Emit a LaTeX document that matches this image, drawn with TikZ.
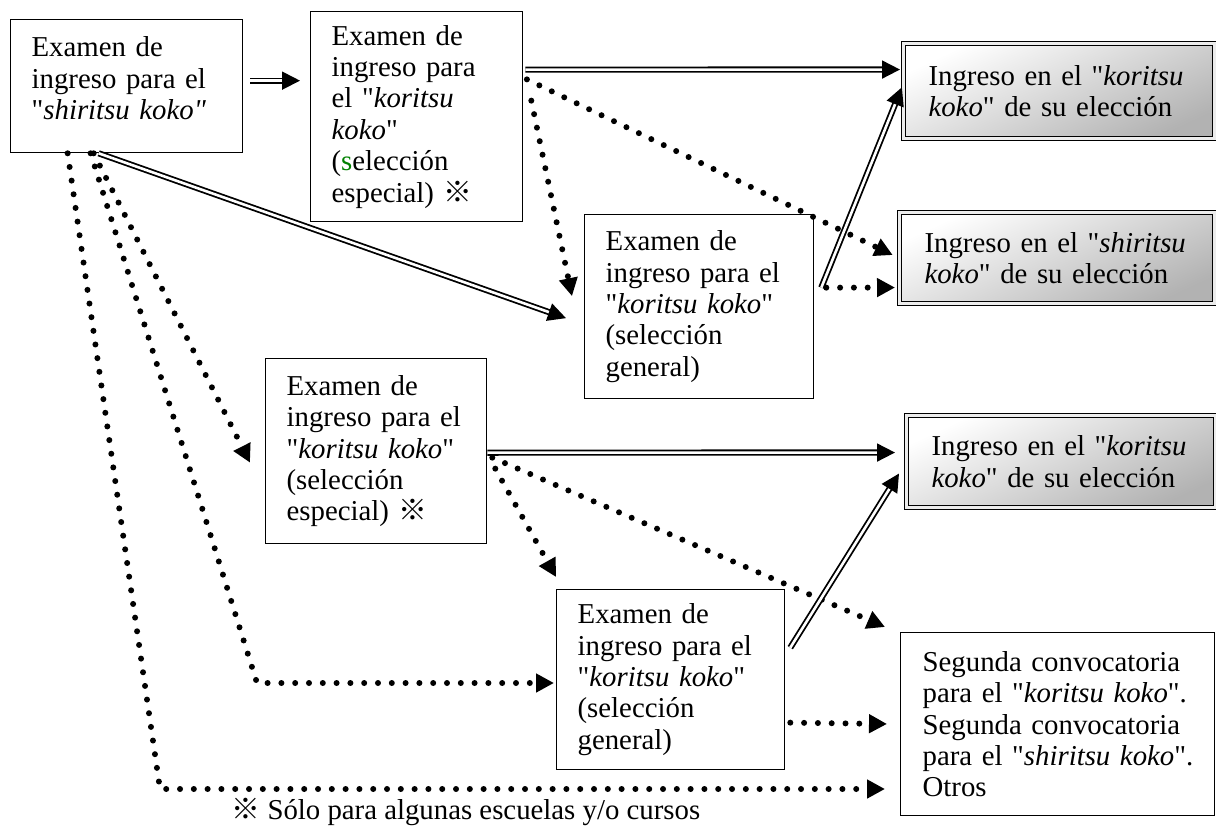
\documentclass[tikz,border=0pt]{standalone}
\usepackage{fontspec}
\setmainfont{Liberation Serif}[Ligatures=TeXOff]
\newfontfamily\cjk{Noto Sans CJK JP}
\usetikzlibrary{arrows.meta}
\newcommand{\kome}{{\cjk ※}}

\begin{document}
\begin{tikzpicture}[x=1pt, y=-1pt,
    box/.style={draw, line width=1.3pt, anchor=north west, align=left,
        inner xsep=21pt, inner ysep=0pt, font=\fontsize{28.8}{31.4}\selectfont},
    goal/.style={box, double=gray!15, double distance=2.2pt, line width=1.1pt,
        top color=white, bottom color=gray!60, shading angle=25, inner xsep=25pt},
    dbl/.style={double, line width=1.8pt, double distance=2.6pt,
        -{Triangle[length=18pt,width=18pt]}},
    dots/.style={line width=6pt, line cap=round, dash pattern=on 0pt off 13.8pt,
        -{Triangle[length=18pt,width=18pt]}}
]
    \useasboundingbox (0,0) rectangle (1216,832);

    \node[box, text width=190pt, minimum height=133pt] (shiexam) at (10,19)
        {Examen de\\ ingreso para el\\ "\textit{shiritsu koko"}\rule[-16pt]{0pt}{0pt}};
    \node[box, text width=170pt, minimum height=210pt] (kosp1)   at (310,11)
        {Examen de\\ ingreso para\\ el "\textit{koritsu}\\ \textit{koko}"\\
         (\textcolor{green!50!black}{s}elección\\ especial) \kome};
    \node[box, text width=187pt, minimum height=184pt] (kogen1)  at (584,214)
        {Examen de\\ ingreso para el\\ "\textit{koritsu koko}"\\ (selección\\ general)};
    \node[box, text width=179pt, minimum height=185pt] (kosp2)   at (265,358)
        {Examen de\\ ingreso para el\\ "\textit{koritsu koko}"\\ (selección\\ especial) \kome};
    \node[box, text width=186pt, minimum height=180pt] (kogen2)  at (556,589)
        {Examen de\\ ingreso para el\\ "\textit{koritsu koko}"\\ (selección\\ general)};
    \node[goal, text width=261pt, minimum height=95pt] (ingko1)  at (903,43)
        {Ingreso en el "\textit{koritsu}\\ \textit{koko}" de su elección};
    \node[goal, text width=265pt, minimum height=91pt] (ingshi)  at (899,212)
        {Ingreso en el "\textit{shiritsu}\\ \textit{koko}" de su elección};
    \node[goal, text width=259pt, minimum height=92pt] (ingko2)  at (906,415)
        {Ingreso en el "\textit{koritsu}\\ \textit{koko}" de su elección};
    \node[box, text width=270pt, minimum height=183pt, inner xsep=22pt] (second) at (900,632)
        {Segunda convocatoria\\ \mbox{para el "\textit{koritsu koko}".}\\ Segunda convocatoria\\
         \mbox{para el "\textit{shiritsu koko}".}\\ Otros};
    \node[anchor=base west, font=\fontsize{28.8}{31.4}\selectfont] (note) at (228,819)
        {\kome\ Sólo para algunas escuelas y/o cursos};

    \coordinate (bendL) at (160,789);
    \coordinate (bendM) at (257,683);

    \draw[dots, shorten >=15pt] ([xshift=-59pt]shiexam.south) -- (bendL) -- (bendL -| second.west);
    \draw[dots, shorten >=2pt]  ([xshift=-36pt]shiexam.south) -- (bendM) -- (bendM -| kogen2.west);
    \path
        ([yshift=5.5pt]shiexam.east)
            edge [dbl, shorten <=7pt, shorten >=10pt] ([yshift=36pt]kosp1.west)
        ([xshift=-28pt]shiexam.south)
            edge [dbl] ([xshift=-18pt, yshift=-11.5pt]kogen1.west)
        ([xshift=-33pt]shiexam.south)
            edge [dots] ([xshift=-15pt, yshift=-11.5pt]kosp2.west)
        ([yshift=47pt]kosp1.east)
            edge [dbl, shorten <=2pt, shorten >=3pt] ([yshift=21.5pt]ingko1.west)
        ([yshift=39pt]kosp1.east)
            edge [dots, shorten <=4pt, shorten >=7pt] (ingshi.west)
        ([xshift=8pt, yshift=16pt]kosp1.east)
            edge [dots] ([xshift=-12pt, yshift=10.5pt]kogen1.west)
        ([xshift=7pt, yshift=19pt]kogen1.east)
            edge [dbl, shorten >=3pt] ([yshift=6.5pt]ingko1.west)
        ([xshift=12pt, yshift=19pt]kogen1.east)
            edge [dots, shorten >=4pt] ([yshift=-29.5pt]ingshi.west)
        ([yshift=-1.5pt]kosp2.east)
            edge [dbl] ([xshift=-11pt, yshift=9pt]ingko2.west)
        ([xshift=5pt, yshift=-6.5pt]kosp2.east)
            edge [dots] ([xshift=-15pt, yshift=5pt]second.north west)
        ([xshift=8pt, yshift=-17.5pt]kosp2.east)
            edge [dots] ([yshift=12pt]kogen2.north west)
        ([xshift=5pt, yshift=32pt]kogen2.east)
            edge [dbl] ([xshift=-7pt, yshift=-12pt]ingko2.west)
        ([xshift=5pt, yshift=-43pt]kogen2.east)
            edge [dots, shorten >=13pt] (second.west)
        ;
\end{tikzpicture}
\end{document}
